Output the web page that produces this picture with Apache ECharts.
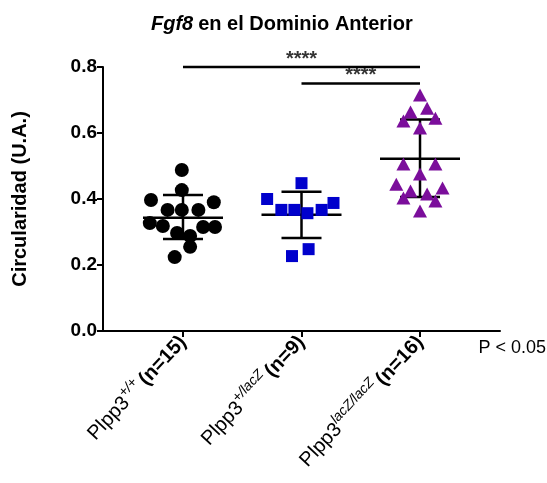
<!DOCTYPE html>
<html>
<head>
<meta charset="utf-8">
<script src="https://cdn.jsdelivr.net/npm/echarts@6/dist/echarts.min.js"></script>
<style>
  html, body { margin: 0; padding: 0; background: #fff; }
  #chart { width: 547px; height: 483px; }
</style>
</head>
<body>
<div id="chart"></div>
<script>
// groups on the x axis (1, 2, 3)
const groupPos = [1, 2, 3]
const groupSup = ['+/+', '+/lacZ', 'lacZ/lacZ']
const groupN = ['(n=15)', '(n=9)', '(n=16)']
const groupColors = ['#000000', '#0000cc', '#7b0e9b']
const groupSymbols = ['circle', 'rect', 'triangle']

// individual points: x is group position with the plot's jitter
const wtX = [0.99, 0.99, 0.73, 1.26, 0.87, 0.99, 1.13, 0.72, 0.83, 1.17, 1.27, 0.95, 1.06, 1.06, 0.93]
const wtY = [0.488, 0.427, 0.397, 0.39, 0.367, 0.367, 0.367, 0.327, 0.318, 0.315, 0.315, 0.297, 0.288, 0.255, 0.224]
const hetX = [2.0, 1.71, 2.27, 1.83, 1.94, 2.05, 2.17, 2.06, 1.92]
const hetY = [0.448, 0.4, 0.388, 0.367, 0.367, 0.357, 0.367, 0.248, 0.227]
const koX = [3.0, 2.92, 3.06, 2.86, 3.13, 3.0, 2.86, 3.13, 3.0, 2.8, 2.92, 3.19, 3.06, 2.86, 3.13, 3.0]
const koY = [0.715, 0.664, 0.675, 0.636, 0.645, 0.615, 0.506, 0.506, 0.476, 0.445, 0.424, 0.433, 0.415, 0.403, 0.394, 0.364]

// mean and mean +/- SD per group
const groupMean = [0.343, 0.352, 0.522]
const groupLow = [0.279, 0.282, 0.406]
const groupHigh = [0.412, 0.422, 0.641]

// significance brackets: [from, to, y]
const sigBars = [[1, 3, 0.8], [2, 3, 0.75]]
const sigText = '****'

const zip = (xs, ys) => xs.map((x, i) => [x, ys[i]])
const pointSets = [zip(wtX, wtY), zip(hetX, hetY), zip(koX, koY)]

const chart = echarts.init(document.getElementById('chart'))

const pointSeries = pointSets.map((pts, i) => ({
  type: 'scatter',
  data: pts,
  symbol: groupSymbols[i],
  symbolSize: i === 0 ? 14 : (i === 1 ? 12 : [14, 13]),
  itemStyle: { color: groupColors[i], opacity: 1 },
  z: 3
}))

chart.setOption({
  animation: false,
  textStyle: { fontFamily: 'Liberation Sans, Arial, sans-serif' },
  title: {
    text: '{i|Fgf8} {n|en el Dominio Anterior}',
    left: 146,
    top: 9,
    textStyle: {
      rich: {
        i: { fontSize: 20, fontWeight: 'bold', fontStyle: 'italic', color: '#000', fontFamily: 'Liberation Sans' },
        n: { fontSize: 20, fontWeight: 'bold', color: '#000', fontFamily: 'Liberation Sans' }
      }
    }
  },
  graphic: [{
    type: 'text',
    right: 1,
    top: 339,
    style: { text: 'P < 0.05', font: '18px Liberation Sans', fill: '#000' }
  }],
  grid: { left: 103, right: 47, top: 67, bottom: 152, containLabel: false },
  xAxis: {
    type: 'value',
    min: 0.325,
    max: 3.675,
    splitLine: { show: false },
    axisLine: { onZero: false, lineStyle: { color: '#000', width: 2 } },
    axisTick: { show: true, customValues: groupPos, length: 6, lineStyle: { color: '#000', width: 2 } },
    axisLabel: {
      customValues: groupPos,
      rotate: 47,
      margin: 8,
      formatter: v => {
        const k = groupPos.indexOf(v)
        return '{a|Plpp3}{s|' + groupSup[k] + '} {b|' + groupN[k] + '}'
      },
      rich: {
        a: { fontSize: 20, color: '#000', fontFamily: 'Liberation Sans', lineHeight: 28 },
        s: { fontSize: 14, color: '#000', fontStyle: 'italic', fontFamily: 'Liberation Sans', verticalAlign: 'top', lineHeight: 28 },
        b: { fontSize: 20, fontWeight: 'bold', color: '#000', fontFamily: 'Liberation Sans', lineHeight: 28 }
      }
    }
  },
  yAxis: {
    type: 'value',
    min: 0,
    max: 0.8,
    interval: 0.2,
    name: 'Circularidad (U.A.)',
    nameLocation: 'middle',
    nameRotate: 90,
    nameGap: 73,
    nameTextStyle: { fontSize: 20, fontWeight: 'bold', color: '#000', fontFamily: 'Liberation Sans' },
    splitLine: { show: false },
    axisLine: { show: true, lineStyle: { color: '#000', width: 2 } },
    axisTick: { show: true, length: 6, lineStyle: { color: '#000', width: 2 } },
    axisLabel: {
      fontSize: 19,
      fontWeight: 'bold',
      color: '#000',
      margin: 6,
      formatter: v => v.toFixed(1)
    }
  },
  series: [
    {
      type: 'custom',
      data: groupPos.map((x, i) => [x, groupMean[i], groupLow[i], groupHigh[i]]),
      z: 2,
      renderItem: (params, api) => {
        const x = api.value(0)
        const m = api.coord([x, api.value(1)])
        const lo = api.coord([x, api.value(2)])
        const hi = api.coord([x, api.value(3)])
        const style = { stroke: '#000', lineWidth: 2.5 }
        const seg = (x1, y1, x2, y2) => ({ type: 'line', shape: { x1, y1, x2, y2 }, style })
        return {
          type: 'group',
          children: [
            seg(m[0] - 40, m[1], m[0] + 40, m[1]),
            seg(lo[0], lo[1], hi[0], hi[1]),
            seg(lo[0] - 20, lo[1], lo[0] + 20, lo[1]),
            seg(hi[0] - 20, hi[1], hi[0] + 20, hi[1])
          ]
        }
      }
    },
    ...pointSeries,
    ...sigBars.map(b => ({
      type: 'line',
      data: [[b[0], b[2]], [b[1], b[2]]],
      symbol: 'none',
      clip: false,
      lineStyle: { color: '#000', width: 2.5 },
      z: 4
    })),
    {
      type: 'scatter',
      data: sigBars.map(b => [(b[0] + b[1]) / 2, b[2]]),
      symbolSize: 0,
      clip: false,
      label: {
        show: true,
        position: 'top',
        distance: -2,
        formatter: sigText,
        fontSize: 20,
        fontWeight: 'bold',
        color: '#000'
      },
      z: 4
    }
  ]
})
</script>
</body>
</html>
